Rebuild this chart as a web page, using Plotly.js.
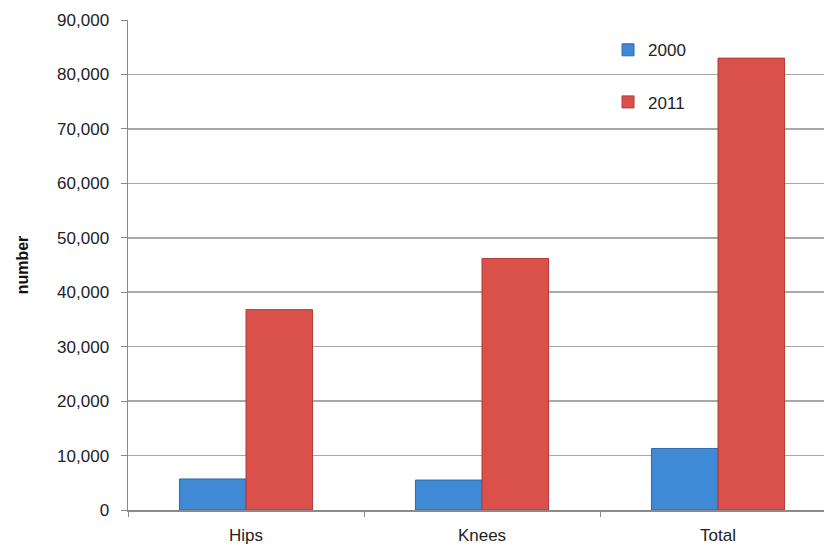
<!DOCTYPE html>
<html>
<head>
<meta charset="utf-8">
<script src="https://cdn.plot.ly/plotly-3.0.1.min.js"></script>
<style>
  html, body { margin: 0; padding: 0; background: #fff; overflow: hidden; }
  #chart { width: 840px; height: 547px; }
</style>
</head>
<body>
<div id="chart"></div>
<script>
// Joint replacements by type, 2000 vs 2011
const categories = ["Hips", "Knees", "Total"];
const values2000 = [5700, 5500, 11300];
const values2011 = [36800, 46200, 83000];
const seriesNames = ["2000", "2011"];

const font = "Liberation Sans, Arial, Helvetica, sans-serif";

const traces = [
  {
    type: "bar",
    name: seriesNames[0],
    x: categories,
    y: values2000,
    legendgroup: "a",
    marker: { color: "#4089d4", line: { color: "#2b6aab", width: 1 } },
    hoverinfo: "x+y+name"
  },
  {
    type: "bar",
    name: seriesNames[1],
    x: categories,
    y: values2011,
    legendgroup: "b",
    marker: { color: "#d9514a", line: { color: "#b23a33", width: 1 } },
    hoverinfo: "x+y+name"
  }
];

const layout = {
  width: 840,
  height: 547,
  margin: { l: 128, r: 4, t: 20, b: 37 },
  paper_bgcolor: "#ffffff",
  plot_bgcolor: "#ffffff",
  font: { family: font, size: 17, color: "#222222" },
  barmode: "group",
  bargap: 0.436,
  bargroupgap: 0,
  showlegend: true,
  legend: {
    x: 0.678, xanchor: "left",
    y: 0.975, yanchor: "top",
    bgcolor: "rgba(0,0,0,0)",
    font: { family: font, size: 17, color: "#222222" },
    traceorder: "grouped",
    tracegroupgap: 27,
    itemwidth: 30
  },
  xaxis: {
    type: "category",
    showline: true,
    linecolor: "#8a8a8a",
    linewidth: 1.5,
    ticks: "outside",
    tickson: "boundaries",
    ticklen: 5,
    tickcolor: "#8a8a8a",
    showgrid: false,
    ticklabelstandoff: 9,
    tickfont: { family: font, size: 17, color: "#222222" },
    fixedrange: true
  },
  yaxis: {
    range: [0, 90000],
    dtick: 10000,
    tickformat: ",d",
    showline: true,
    linecolor: "#8a8a8a",
    linewidth: 1.5,
    ticks: "outside",
    ticklen: 6,
    tickcolor: "#8a8a8a",
    showgrid: true,
    gridcolor: "#a8a8a8",
    gridwidth: 1.5,
    zeroline: false,
    ticklabelstandoff: 8,
    tickfont: { family: font, size: 17, color: "#222222" },
    title: {
      text: "number",
      font: { family: font, size: 16, color: "#111111", weight: "bold" },
      standoff: 24
    },
    fixedrange: true
  }
};

Plotly.newPlot("chart", traces, layout, { displayModeBar: false, staticPlot: true });
</script>
</body>
</html>
